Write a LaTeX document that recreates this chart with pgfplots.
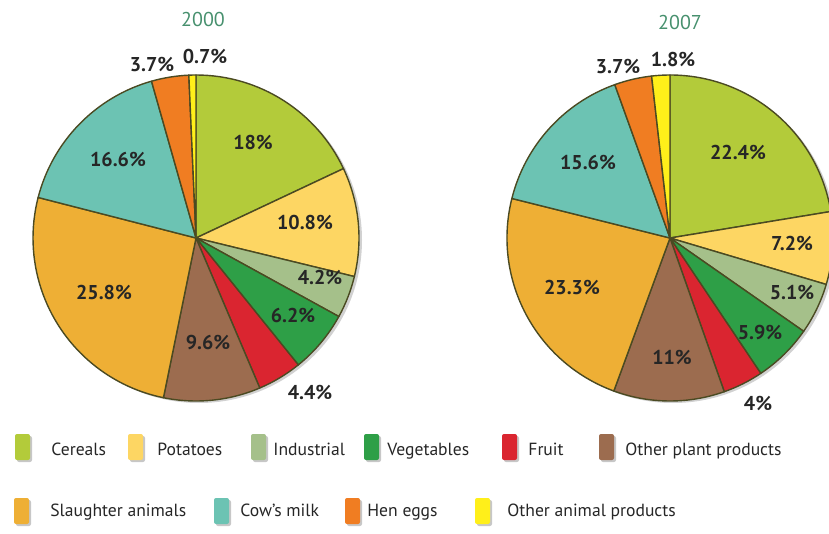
\documentclass[border=0pt]{standalone}
\usepackage{fontspec}
\setmainfont{PT Sans}
\usepackage{pgfplots}
\usepackage{pgfplotstable}
\pgfplotsset{compat=1.18}
\usetikzlibrary{calc}

% slice colours, in pie order (clockwise from 12 o'clock)
\definecolor{c0}{HTML}{B3CB3A}% Cereals
\definecolor{c1}{HTML}{FDD663}% Potatoes
\definecolor{c2}{HTML}{A5C08A}% Industrial
\definecolor{c3}{HTML}{2E9F47}% Vegetables
\definecolor{c4}{HTML}{DA2530}% Fruit
\definecolor{c5}{HTML}{9C6C4F}% Other plant products
\definecolor{c6}{HTML}{EEAF35}% Slaughter animals
\definecolor{c7}{HTML}{6CC3B3}% Cow's milk
\definecolor{c8}{HTML}{F07D22}% Hen eggs
\definecolor{c9}{HTML}{FFEF1A}% Other animal products
\definecolor{pieedge}{HTML}{4B4A22}
\definecolor{labtext}{HTML}{262626}
\definecolor{titlecol}{HTML}{47906E}

% share (%) and label position (px) of each slice
\pgfplotstableread{
val  lx  ly
18   253 143
10.8 305 222
4.2  320 278
6.2  293 315
4.4  310 392
9.6  208 342
25.8 104 292
16.6 118 160
3.7  152 65
0.7  205 57
}\pieA

\pgfplotstableread{
val  lx  ly
22.4 738 153
7.2  792 243
5.1  792 292
5.9  760 332
4    758 403
11   672 357
23.3 572 287
15.6 588 163
3.7  618 67
1.8  673 60
}\pieB

\def\pieR{81.5pt}

\newcommand{\drawpie}[3]{%
  \coordinate (pc) at (axis cs:#2,#3);
  \fill[black!18] ($(pc)+(1.5pt,-1pt)$) circle[radius=\pieR];
  \gdef\cum{90}%
  \foreach \i in {0,...,9}{%
    \pgfplotstablegetelem{\i}{val}\of#1%
    \pgfmathsetmacro\endang{\cum-3.6*\pgfplotsretval}%
    \filldraw[fill=c\i, draw=pieedge, line width=0.7pt, line join=round]
      (pc) -- ++(\cum:\pieR) arc[start angle=\cum, end angle=\endang, radius=\pieR] -- cycle;
    \xdef\cum{\endang}%
  }%
  \foreach \i in {0,...,9}{%
    \pgfplotstablegetelem{\i}{lx}\of#1\let\lx\pgfplotsretval
    \pgfplotstablegetelem{\i}{ly}\of#1\let\ly\pgfplotsretval
    \pgfplotstablegetelem{\i}{val}\of#1%
    \node[font=\bfseries\fontsize{10}{11}\selectfont, text=labtext] at (axis cs:\lx,\ly) {\pgfplotsretval\%};
  }%
}

\begin{document}
\begin{tikzpicture}
\begin{axis}[name=ax, scale only axis, width=414.5pt, height=267pt,
  xmin=0, xmax=829, ymin=0, ymax=534, y dir=reverse, hide axis]
\pgfplotsextra{%
  \drawpie{\pieA}{196}{238}
  \drawpie{\pieB}{670}{238}
  \node[font=\fontsize{10}{12}\selectfont, text=titlecol] at (axis cs:203,20) {2000};
  \node[font=\fontsize{10}{12}\selectfont, text=titlecol] at (axis cs:680,23) {2007};
  % legend: swatch left, swatch right, text start, row, colour, name
  \foreach \sa/\sb/\tx/\r/\c/\name in {
      15/30/51/0/0/Cereals, 128/143/157/0/1/Potatoes, 251/266/273/0/2/Industrial,
      364/379/387/0/3/Vegetables, 502/517/528/0/4/Fruit, 599/614/625/0/5/Other plant products,
      14/29/50/1/6/Slaughter animals, 214/229/240/1/7/Cow's milk, 345/360/367/1/8/Hen eggs,
      475/490/507/1/9/Other animal products}{%
    \pgfmathsetmacro\ytop{434+64*\r}%
    \pgfmathsetmacro\ybot{460+64*\r}%
    \pgfmathsetmacro\ybase{455+61*\r}%
    \fill[black!22, rounded corners=1pt] ($(axis cs:\sa,\ytop)+(1pt,-1pt)$) rectangle ($(axis cs:\sb,\ybot)+(1pt,-1pt)$);
    \fill[c\c, rounded corners=1pt] (axis cs:\sa,\ytop) rectangle (axis cs:\sb,\ybot);
    \node[anchor=base west, inner sep=0pt, font=\fontsize{8.8}{10}\selectfont, text=labtext] at (axis cs:\tx,\ybase) {\name};
  }%
}
\end{axis}
\pgfresetboundingbox
\path[use as bounding box] (ax.south west) rectangle (ax.north east);
\end{tikzpicture}
\end{document}
